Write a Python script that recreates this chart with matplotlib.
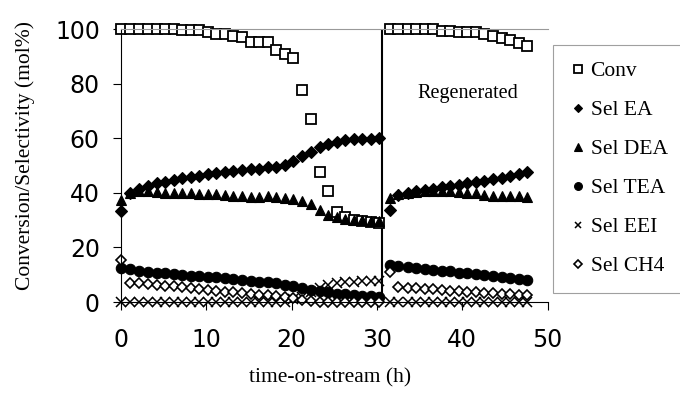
import matplotlib
matplotlib.use("Agg")
import matplotlib.pyplot as plt

# sampling times (h) for the fresh catalyst and the regenerated catalyst
t_run1 = [0, 1.1, 2.1, 3.2, 4.2, 5.2, 6.2, 7.2, 8.2, 9.2, 10.2, 11.2, 12.2, 13.2, 14.2,
          15.2, 16.2, 17.2, 18.2, 19.2, 20.2, 21.2, 22.3, 23.3, 24.3, 25.3, 26.3, 27.3,
          28.3, 29.3, 30.3]
t_run2 = [31.5, 32.5, 33.6, 34.6, 35.6, 36.6, 37.6, 38.6, 39.6, 40.6, 41.6, 42.5, 43.6,
          44.6, 45.6, 46.6, 47.6]
t_regen = 30.6

conv1 = [100, 100, 100, 100, 100, 100, 100, 99.6, 99.6, 99.6, 98.8, 98.2, 98.2, 97.6, 97,
         95.2, 95.2, 95.2, 92.3, 91, 89.2, 77.6, 67, 47.6, 40.8, 33.1, 31.2, 30, 29.8,
         29.4, 29]
conv2 = [100, 100, 100, 100, 100, 100, 99.4, 99.3, 99, 99, 99, 98, 97.4, 96.8, 96, 95,
         93.9]

ea1 = [33.3, 40, 41.5, 42.5, 43.5, 44, 44.8, 45.4, 45.8, 46.3, 46.8, 47.2, 47.6, 48, 48.4,
       48.6, 48.6, 49.3, 49.6, 50.2, 51.6, 53.5, 55, 56.9, 58, 58.7, 59.3, 59.6, 59.7,
       59.8, 60]
ea2 = [33.7, 39.3, 40, 40.5, 41, 41.5, 42, 42.5, 43, 43.5, 44, 44.5, 45, 45.6, 46.2, 47,
       47.7]

dea1 = [37.5, 40, 40.5, 40.5, 40.3, 40, 40, 40, 39.8, 39.6, 39.5, 39.5, 39.3, 39, 38.8,
        38.6, 38.5, 38.7, 38.6, 38, 37.7, 37, 36, 33.7, 31.9, 31, 30.5, 30.2, 30, 29.8,
        29.5]
dea2 = [38, 39.5, 40, 40.3, 40.5, 40.5, 40.6, 40.5, 40.3, 40, 39.8, 39.3, 39, 38.9, 38.8,
        38.7, 38.6]

tea1 = [12.5, 12, 11.5, 11, 10.8, 10.5, 10.2, 10, 9.7, 9.4, 9.2, 9, 8.7, 8.4, 8.1, 7.8,
        7.5, 7.2, 6.8, 6.4, 5.8, 5.2, 4.5, 4, 3.5, 3, 2.8, 2.5, 2.3, 2.2, 2]
tea2 = [13.5, 13.3, 13, 12.6, 12.2, 11.8, 11.5, 11.2, 10.8, 10.5, 10.2, 9.9, 9.5, 9.2,
        8.8, 8.5, 8]

eei1 = [0, 0, 0, 0, 0, 0, 0, 0, 0, 0, 0, 0, 0, 0, 0, 0, 0, 0, 0, 0, 1, 2, 3.5, 5, 6.2, 7,
        7.4, 7.5, 7.6, 7.7, 7.8]
eei2 = [0, 0, 0, 0, 0, 0, 0, 0, 0, 0, 0, 0, 0, 0, 0, 0, 0]

ch4_1 = [15.5, 7, 6.8, 6.5, 6.2, 6, 5.7, 5.4, 5, 4.7, 4.4, 4.1, 3.8, 3.5, 3.2, 2.9, 2.7,
         2.5, 2.3, 2, 1.5, 0.8, 0.3, 0, 0, 0, 0, 0, 0, 0, 0]
ch4_2 = [11, 5.5, 5.2, 5, 4.8, 4.6, 4.4, 4.2, 4, 3.8, 3.6, 3.4, 3.2, 3, 2.8, 2.7, 2.5]

labels = ["Conv", "Sel EA", "Sel DEA", "Sel TEA", "Sel EEI", "Sel CH4"]

series = [
    (conv1, conv2, dict(marker="s", ms=7, mfc="white", mec="black", mew=1.3)),
    (ea1, ea2, dict(marker="D", ms=5.8, mfc="black", mec="black", mew=0.8)),
    (dea1, dea2, dict(marker="^", ms=7.5, mfc="black", mec="black", mew=0.8)),
    (tea1, tea2, dict(marker="o", ms=7.5, mfc="black", mec="black", mew=0.8)),
    (eei1, eei2, dict(marker="x", ms=6.5, mfc="none", mec="black", mew=1.1)),
    (ch4_1, ch4_2, dict(marker="D", ms=5.6, mfc="white", mec="black", mew=1.2)),
]

fig = plt.figure(figsize=(6.8, 3.99), dpi=100)
ax = fig.add_axes([0.1775, 0.2431, 0.628, 0.6842])

handles = []
for (v1, v2, style), lab in zip(series, labels):
    h, = ax.plot(t_run1, v1, ls="none", clip_on=False, label=lab, **style)
    ax.plot(t_run2, v2, ls="none", clip_on=False, **style)
    handles.append(h)

# catalyst regeneration
ax.axvline(t_regen, color="black", lw=1.5, zorder=1)
ax.text(40.6, 76.3, "Regenerated", family="Liberation Serif", fontsize=14.5,
        ha="center", va="center")

ax.set_xlim(0, 50)
ax.set_ylim(0, 100)
ax.set_xticks([0, 10, 20, 30, 40, 50])
ax.set_yticks([0, 20, 40, 60, 80, 100])
ax.tick_params(direction="out", length=6, width=0.8, labelsize=17)
ax.tick_params(axis="x", pad=13)
ax.tick_params(axis="y", pad=9)
for lbl in ax.get_xticklabels() + ax.get_yticklabels():
    lbl.set_family("DejaVu Sans")

ax.spines["right"].set_visible(False)
ax.spines["top"].set_color("#999999")
ax.spines["top"].set_linewidth(0.8)
ax.spines["left"].set_linewidth(0.8)
ax.spines["bottom"].set_linewidth(0.8)

ax.set_xlabel("time-on-stream (h)", family="Liberation Serif", fontsize=15.5)
ax.xaxis.set_label_coords(0.49, -0.243)
ax.set_ylabel("Conversion/Selectivity (mol%)", family="Liberation Serif", fontsize=15.5)
ax.yaxis.set_label_coords(-0.2, 0.538)

leg = fig.legend(handles=handles, loc="upper left", bbox_to_anchor=(0.813, 0.887),
                 borderaxespad=0, prop={"family": "Liberation Serif", "size": 15.5},
                 markerscale=0.75, handlelength=0.8, handletextpad=0.2,
                 labelspacing=0.88, borderpad=0.75, fancybox=False, frameon=True)
leg.get_frame().set_edgecolor("#888888")
leg.get_frame().set_linewidth(0.8)

fig.savefig("out.png", dpi=100)
